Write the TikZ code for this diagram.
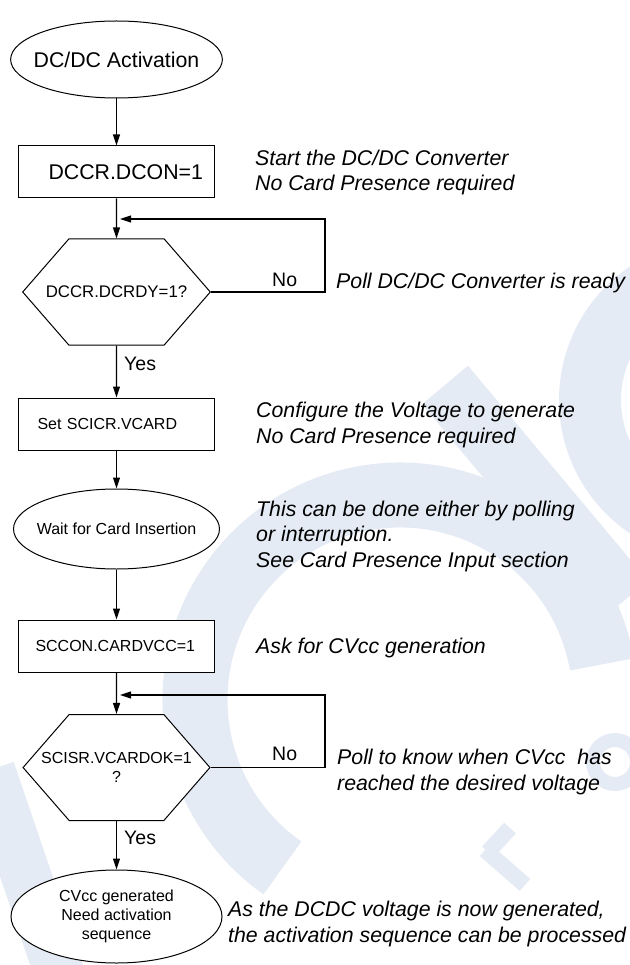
\documentclass[tikz,border=0pt]{standalone}
\usepackage{fontspec}
\setmainfont{Liberation Sans}
\usepackage{xcolor}
\usepackage{tikz}
\usetikzlibrary{arrows.meta,positioning,shapes.geometric,shapes.symbols}
\definecolor{wmblue}{RGB}{229,235,244}

\begin{document}
\begin{tikzpicture}[
x=1pt,y=-1pt,
font=\fontsize{16}{19}\selectfont,
term/.style={ellipse, draw, fill=white, line width=1pt, inner sep=0pt, align=center},
proc/.style={rectangle, draw, fill=white, line width=1pt, minimum width=196pt, minimum height=52pt, inner sep=0pt},
dec/.style={signal, signal to=west and east, signal pointer angle=98, draw, fill=white, line width=1pt, minimum height=106pt, inner ysep=0pt, align=center},
note/.style={anchor=base west, inner sep=0pt, align=left, font=\fontsize{21.3}{25.5}\selectfont\itshape},
yn/.style={anchor=base west, inner sep=0pt, font=\fontsize{19.5}{22}\selectfont},
arr/.style={-{Triangle[length=11pt,width=7pt]}, line width=1.1pt},
wm/.style={draw=wmblue, line width=62pt}
]
\useasboundingbox (0,0) rectangle (629,965);
\draw[wm, line width=65pt] (601.9,664.4) arc[start angle=10, end angle=235, radius=205pt];
\draw[wm, line width=60pt] (445,385) -- (625,600);
\draw[wm] (655,287.4) arc[start angle=120, end angle=240, radius=130pt];
\draw[wm, line width=50pt] (-10,770) -- (60,975);
\draw[wmblue, line width=14pt] (615,762) circle[radius=22pt];
\draw[wmblue, line width=16pt] (485,850) -- (525,885);
\draw[wmblue, line width=16pt] (488,852) -- (510,828);
\node[term, minimum width=210pt, minimum height=77pt, inner xsep=-8pt, font=\fontsize{21.3}{25}\selectfont] (start) at (116.5,59.5) {DC/DC Activation};
\node[proc, font=\fontsize{21.3}{25}\selectfont, text width=173pt, align=right] (dcon) at (116.5,172) {DCCR.DCON=1};
\node[dec, inner xsep=-23pt, font=\fontsize{16.8}{19}\selectfont] (dcrdy) at (116.5,292) {DCCR.DCRDY=1?};
\node[proc, text width=158pt, align=left] (vcard) at (116.5,424) {Set SCICR.VCARD};
\node[term, minimum width=206pt, minimum height=80pt, inner xsep=-7pt] (wait) at (116.5,529) {Wait for Card Insertion};
\node[proc, text width=162pt, align=left] (cardvcc) at (116.5,646) {SCCON.CARDVCC=1};
\node[dec, inner xsep=-28pt] (vcardok) at (116.5,767.5) {SCISR.VCARDOK=1\\?};
\node[term, minimum width=211pt, minimum height=93pt] (done) at (116.5,916.5) {CVcc generated\\Need activation\\sequence};
\coordinate (turn1) at (325,219);
\coordinate (join1) at (120,219);
\coordinate (turn2) at (325,695);
\coordinate (join2) at (120,695);
\draw[arr] (start) -- (dcon);
\draw[arr] (dcon) -- (dcrdy);
\draw[arr] (dcrdy) -- (vcard);
\draw[arr] (vcard) -- (wait);
\draw[arr] (wait) -- (cardvcc);
\draw[arr] (cardvcc) -- (vcardok);
\draw[arr] (vcardok) -- (done);
\draw[arr] (dcrdy.east) -| (turn1) -- (join1);
\draw[arr] (vcardok.east) -| (turn2) -- (join2);
\node[yn] (no1) at (272,287) {No};
\node[yn] (yes1) at (124,370) {Yes};
\node[yn] (no2) at (272,760) {No};
\node[yn] (yes2) at (124,844) {Yes};
\node[note] (n1) at (255,191) {Start the DC/DC Converter\\No Card Presence required};
\node[note] (n2) at (336,288) {Poll DC/DC Converter is ready};
\node[note] (n3) at (256,443) {Configure the Voltage to generate\\No Card Presence required};
\node[note] (n4) at (256,567) {This can be done either by polling\\or interruption.\\See Card Presence Input section};
\node[note] (n5) at (256,653) {Ask for CVcc generation};
\node[note] (n6) at (337,790) {Poll to know when CVcc~ has\\reached the desired voltage};
\node[note] (n7) at (228,942) {As the DCDC voltage is now generated,\\the activation sequence can be processed};
\end{tikzpicture}
\end{document}
